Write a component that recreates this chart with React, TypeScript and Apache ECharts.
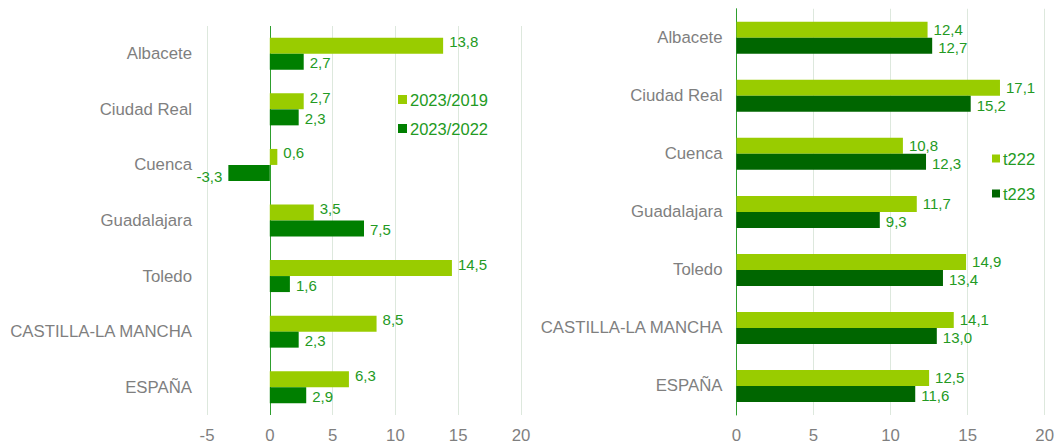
import React, { useEffect, useRef } from "react";
import * as echarts from "echarts";

const categories = ["Albacete", "Ciudad Real", "Cuenca", "Guadalajara", "Toledo", "CASTILLA-LA MANCHA", "ESPAÑA"];
const leftNames = ["2023/2019", "2023/2022"];
const left2019 = [13.8, 2.7, 0.6, 3.5, 14.5, 8.5, 6.3];
const left2022 = [2.7, 2.3, -3.3, 7.5, 1.6, 2.3, 2.9];
const rightNames = ["t222", "t223"];
const right222 = [12.4, 17.1, 10.8, 11.7, 14.9, 14.1, 12.5];
const right223 = [12.7, 15.2, 12.3, 9.3, 13.4, 13.0, 11.6];

const LIGHT = "#99cc00";
const DARK_L = "#007f00";
const DARK_R = "#006600";
const TEXT_GREEN = "#239a23";
const GRAY = "#7f7f7f";
const GRID = "#dde8dd";
const AXIS_GREEN = "#2e9e2e";
const FONT = "'Liberation Sans', Arial, sans-serif";

const fmt = (v: number) => v.toFixed(1).replace(".", ",");

export default function App() {
  const ref = useRef<HTMLDivElement>(null);
  useEffect(() => {
    if (!ref.current) return;
    const chart = echarts.init(ref.current, null, { renderer: "svg" });
    const label = (offset: number[]) => ({
      show: true,
      position: "right",
      distance: 6,
      offset,
      color: TEXT_GREEN,
      fontSize: 15,
      fontFamily: FONT,
      formatter: (p: any) => fmt(p.value),
    });
    const catAxis = (gridIndex: number, margin: number, showLine: boolean) => ({
      type: "category",
      gridIndex,
      data: categories,
      inverse: true,
      axisTick: { show: false },
      axisLine: { show: showLine, onZero: false, lineStyle: { color: AXIS_GREEN, width: 1 } },
      axisLabel: { color: GRAY, fontSize: 16.8, fontFamily: FONT, margin },
      splitLine: { show: false },
    });
    const valAxis = (gridIndex: number, min: number, colors: string[]) => ({
      type: "value",
      gridIndex,
      min,
      max: 20,
      interval: 5,
      axisLine: { show: false },
      axisTick: { show: false },
      axisLabel: { color: GRAY, fontSize: 16.8, fontFamily: FONT, margin: 12 },
      splitLine: { show: true, lineStyle: { color: colors, width: 1 } },
    });
    chart.setOption({
      animation: false,
      grid: [
        { left: 207, right: 536, top: 26, bottom: 26, containLabel: false },
        { left: 736.5, right: 10, top: 8.75, bottom: 26, containLabel: false },
      ],
      xAxis: [
        valAxis(0, -5, [GRID, AXIS_GREEN, GRID, GRID, GRID, GRID]),
        valAxis(1, 0, [GRID]),
      ],
      yAxis: [catAxis(0, 15, false), catAxis(1, 14, true)],
      legend: [
        {
          data: leftNames,
          orient: "vertical",
          left: 398,
          top: 91,
          padding: 0,
          itemWidth: 9,
          itemHeight: 9,
          itemGap: 12,
          icon: "rect",
          textStyle: { color: TEXT_GREEN, fontSize: 16.5, fontFamily: FONT, padding: [0, 0, 0, -2] },
        },
        {
          data: rightNames,
          orient: "vertical",
          left: 992,
          top: 150,
          padding: 0,
          itemWidth: 8,
          itemHeight: 8,
          itemGap: 18,
          icon: "rect",
          textStyle: { color: TEXT_GREEN, fontSize: 16.5, fontFamily: FONT, padding: [0, 0, 0, -2] },
        },
      ],
      series: [
        {
          name: leftNames[0],
          type: "bar",
          xAxisIndex: 0,
          yAxisIndex: 0,
          data: left2019,
          barWidth: 16,
          barGap: "0%",
          itemStyle: { color: LIGHT },
          label: label([0, -4]),
        },
        {
          name: leftNames[1],
          type: "bar",
          xAxisIndex: 0,
          yAxisIndex: 0,
          data: left2022.map((v) => (v < 0 ? { value: v, label: { position: "left", offset: [0, 4] } } : v)),
          barWidth: 16,
          barGap: "0%",
          itemStyle: { color: DARK_L },
          label: label([0, 1]),
        },
        {
          name: rightNames[0],
          type: "bar",
          xAxisIndex: 1,
          yAxisIndex: 1,
          data: right222,
          barWidth: 16,
          barGap: "0%",
          itemStyle: { color: LIGHT },
          label: label([0, 0]),
        },
        {
          name: rightNames[1],
          type: "bar",
          xAxisIndex: 1,
          yAxisIndex: 1,
          data: right223,
          barWidth: 16,
          barGap: "0%",
          itemStyle: { color: DARK_R },
          label: label([0, 2]),
        },
      ],
    });
    return () => chart.dispose();
  }, []);
  return (
    <div
      ref={ref}
      style={{ position: "fixed", left: 0, top: 0, width: 1057, height: 444, background: "#ffffff" }}
    />
  );
}
